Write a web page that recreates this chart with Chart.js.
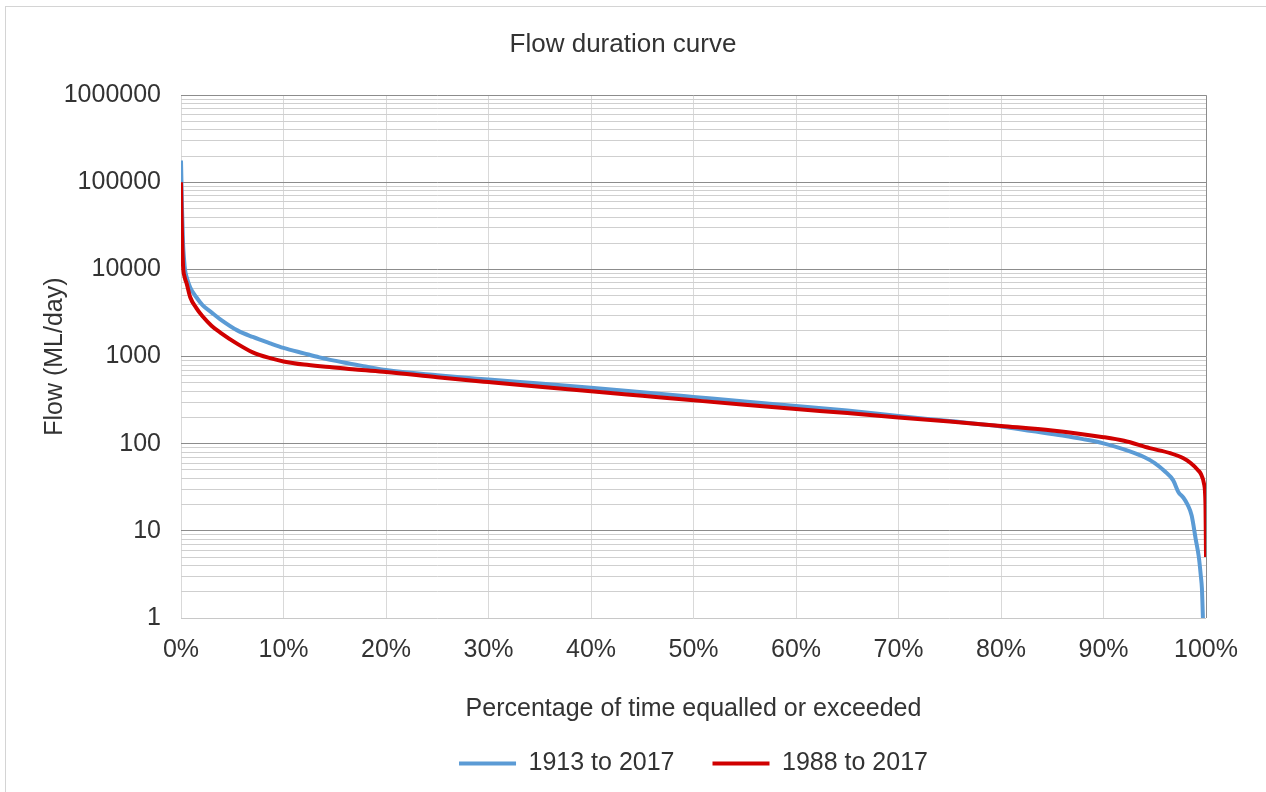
<!DOCTYPE html>
<html>
<head>
<meta charset="utf-8">
<title>Flow duration curve</title>
<script src="https://cdn.jsdelivr.net/npm/chart.js@4.4.0/dist/chart.umd.min.js"></script>
<style>
body { margin: 0; background: #fff; }
#wrap { position: relative; width: 1266px; height: 792px; }
#frame { position: absolute; left: 5px; top: 6px; right: 0; bottom: 0;
         border-left: 1px solid #d4d4d4; border-top: 1px solid #d4d4d4; pointer-events: none; }
</style>
</head>
<body>
<div id="wrap">
  <canvas id="graph1" width="1266" height="792"></canvas>
  <div id="frame"></div>
</div>
<script>
// values (percent of time, flow in ML/day)
var pct1913 = [0, 0.1, 0.2, 0.3, 0.4, 0.55, 0.9, 1.5, 2.1, 3, 3.8, 5.5, 7, 8.7, 10, 12, 13.5, 16, 18, 20,
               25, 30, 35, 40, 45, 50, 55, 60, 65, 70, 75, 80, 83, 86, 88, 90, 92, 94, 95, 96,
               96.8, 97.3, 97.8, 98.2, 98.6, 99.0, 99.3, 99.5, 99.6, 99.7];
var flow1913 = [178000, 50000, 20000, 13000, 9800, 8200, 6200, 4800, 3900, 3200, 2700, 2000, 1680, 1420, 1260, 1090, 980, 850, 770, 700,
                610, 545, 490, 440, 390, 345, 305, 272, 240, 208, 182, 158, 140, 124, 113, 101, 86, 70, 60, 48,
                38, 28, 24, 20, 15, 8, 5, 3, 2.2, 1];

var pct1988 = [0, 0.05, 0.1, 0.2, 0.35, 0.55, 0.9, 1.5, 2.1, 3, 3.8, 5.5, 7, 8.7, 10, 12, 14.5, 17, 20,
               25, 30, 35, 40, 45, 50, 55, 60, 65, 70, 75, 80, 85, 90, 92, 94.5, 96.5, 97.8, 98.5,
               99.2, 99.5, 99.8, 99.95, 100];
var flow1988 = [100000, 45000, 25000, 11000, 8200, 6900, 4800, 3600, 2900, 2250, 1900, 1400, 1120, 960, 880, 810, 760, 710, 665,
                580, 510, 450, 400, 355, 315, 280, 250, 225, 200, 180, 160, 142, 119, 108, 89, 78, 68, 60,
                50, 45, 35, 20, 5];

var seriesNames = ['1913 to 2017', '1988 to 2017'];
var yLabels = [1, 10, 100, 1000, 10000, 100000, 1000000];
var xLabelStep = 10;

function points(xs, ys) {
    var out = [];
    for (var i = 0; i < xs.length; i++) out.push({x: xs[i], y: ys[i]});
    return out;
}

function isDecade(v) {
    for (var i = 0; i < yLabels.length; i++) {
        if (Math.abs(v - yLabels[i]) < 1e-6 * yLabels[i]) return true;
    }
    return false;
}

Chart.defaults.font.family = "'Liberation Sans', Arial, sans-serif";
Chart.defaults.color = '#333333';

var ctx1 = document.getElementById('graph1');

var data = {
    datasets: [{
        label: seriesNames[0],
        data: points(pct1913, flow1913),
        borderColor: '#5b9bd5',
        backgroundColor: '#5b9bd5',
        borderWidth: 4,
        pointRadius: 0,
        cubicInterpolationMode: 'monotone',
        order: 1
    }, {
        label: seriesNames[1],
        data: points(pct1988, flow1988),
        borderColor: '#d00000',
        backgroundColor: '#d00000',
        borderWidth: 4,
        pointRadius: 0,
        cubicInterpolationMode: 'monotone',
        order: 0
    }]
};

var options = {
    responsive: false,
    animation: false,
    layout: { padding: { top: 18, left: 40, right: 60, bottom: 6 } },
    plugins: {
        title: {
            display: true,
            text: 'Flow duration curve',
            font: { size: 26, weight: 'normal' },
            padding: { top: 11, bottom: 35 }
        },
        legend: {
            position: 'bottom',
            fullSize: false,
            labels: {
                boxWidth: 57,
                boxHeight: 4,
                padding: 38,
                font: { size: 25 },
                sort: function (a, b) { return a.datasetIndex - b.datasetIndex; },
                generateLabels: function (chart) {
                    var items = Chart.defaults.plugins.legend.labels.generateLabels(chart);
                    items.forEach(function (it) { it.lineWidth = 0; });
                    return items;
                }
            }
        },
        tooltip: { enabled: false }
    },
    scales: {
        x: {
            type: 'linear',
            min: 0,
            max: 100,
            afterFit: function (scale) { scale.height = 95; },
            ticks: {
                stepSize: xLabelStep,
                maxRotation: 0,
                padding: 17,
                font: { size: 25 },
                callback: function (v) { return v + '%'; }
            },
            grid: {
                drawTicks: false,
                color: function (c) { return c.tick && c.tick.value === 100 ? '#8c8c8c' : '#d9d9d9'; }
            },
            border: { display: false },
            title: {
                display: true,
                text: 'Percentage of time equalled or exceeded',
                font: { size: 25 },
                padding: { top: 0, bottom: -11 }
            }
        },
        y: {
            type: 'logarithmic',
            min: 1,
            max: 1000000,
            afterFit: function (scale) { scale.width = 141; },
            afterBuildTicks: function (scale) {
                var t = [];
                for (var d = 0; d < yLabels.length - 1; d++) {
                    for (var m = 1; m < 10; m++) t.push({ value: m * yLabels[d] });
                }
                t.push({ value: yLabels[yLabels.length - 1] });
                scale.ticks = t;
            },
            ticks: {
                autoSkip: false,
                padding: 20,
                font: { size: 25 },
                callback: function (v) { return isDecade(v) ? String(Math.round(v)) : ''; }
            },
            grid: {
                drawTicks: false,
                color: function (c) {
                    if (!c.tick) return '#d0d0d0';
                    if (c.tick.value === 1) return '#c8c8c8';
                    return isDecade(c.tick.value) ? '#8c8c8c' : '#cfcfcf';
                }
            },
            border: { display: false },
            title: {
                display: true,
                text: 'Flow (ML/day)',
                font: { size: 25 },
                padding: { top: 0, bottom: 0 }
            }
        }
    }
};

var config = {
    type: 'line',
    data: data,
    options: options
};

var graph1 = new Chart(ctx1, config);
</script>
</body>
</html>
